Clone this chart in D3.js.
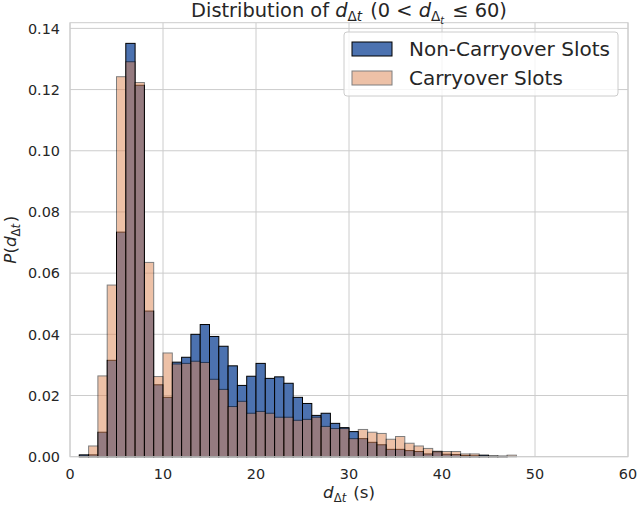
<!DOCTYPE html>
<html lang="en">
<head>
<meta charset="UTF-8">
<title>Distribution of d</title>
<style>
    body { margin: 0; padding: 0; background: #fff; }
    svg { display: block; font-family: "DejaVu Sans", sans-serif; }
</style>
<script src="https://d3js.org/d3.v7.min.js"></script>
</head>
<body>
<svg id="chart" width="639" height="508"></svg>
<script>
    // bin i covers [binStart[i], binStart[i] + 1)
    const binStart = d3.range(1, 48);
    const nonCarryover = [
        0.0006, 0.0006, 0.0080, 0.0315, 0.0734, 0.1351, 0.1214, 0.0476, 0.0235, 0.0194,
        0.0309, 0.0325, 0.0400, 0.0432, 0.0393, 0.0361, 0.0297, 0.0233, 0.0263, 0.0305,
        0.0256, 0.0261, 0.0240, 0.0194, 0.0174, 0.0135, 0.0142, 0.0109, 0.0095, 0.0082,
        0.0059, 0.0047, 0.0039, 0.0024, 0.0024, 0.0020, 0.0017, 0.0009, 0.0016, 0.0008,
        0.0007, 0.0004, 0.0003, 0.0005, 0.0002, 0.0001, 0.0000
    ];
    const carryover = [
        0.0003, 0.0035, 0.0264, 0.0561, 0.1242, 0.1291, 0.1223, 0.0635, 0.0262, 0.0339,
        0.0303, 0.0305, 0.0312, 0.0308, 0.0253, 0.0220, 0.0164, 0.0181, 0.0142, 0.0148,
        0.0142, 0.0129, 0.0129, 0.0119, 0.0122, 0.0129, 0.0099, 0.0092, 0.0092, 0.0059,
        0.0089, 0.0080, 0.0076, 0.0057, 0.0066, 0.0044, 0.0035, 0.0027, 0.0018, 0.0017,
        0.0017, 0.0009, 0.0009, 0.0002, 0.0002, 0.0002, 0.0005
    ];
    const xTicks = [0, 10, 20, 30, 40, 50, 60];
    const yTicks = [0, 0.02, 0.04, 0.06, 0.08, 0.10, 0.12, 0.14];
    const seriesNames = ['Non-Carryover Slots', 'Carryover Slots'];

    const svg = d3.select('#chart');
    const margin = { left: 70, right: 11, top: 22.7, bottom: 51.3 };
    const W = 639, H = 508;
    const textColor = '#262626';
    const gridColor = '#cccccc';
    const tickSize = 14.4, labelSize = 16.7, titleSize = 19.4, legendSize = 20;

    const yMax = d3.max(nonCarryover.concat(carryover)) * 1.05;
    const x = d3.scaleLinear().domain([0, 60]).range([margin.left, W - margin.right]);
    const y = d3.scaleLinear().domain([0, yMax]).range([H - margin.bottom, margin.top]);

    // grid
    const grid = svg.append('g');
    grid.selectAll('line.gx').data(xTicks).enter().append('line')
        .attr('x1', d => x(d)).attr('x2', d => x(d))
        .attr('y1', y.range()[0]).attr('y2', y.range()[1])
        .attr('stroke', gridColor).attr('stroke-width', 1);
    grid.selectAll('line.gy').data(yTicks).enter().append('line')
        .attr('x1', x.range()[0]).attr('x2', x.range()[1])
        .attr('y1', d => y(d)).attr('y2', d => y(d))
        .attr('stroke', gridColor).attr('stroke-width', 1);

    // bars
    function drawBars(values, fill, opacity) {
        svg.append('g').selectAll('rect')
            .data(binStart.map((b, i) => ({ b: b, v: values[i] })).filter(d => d.v > 0))
            .enter().append('rect')
            .attr('x', d => x(d.b))
            .attr('width', d => x(d.b + 1) - x(d.b))
            .attr('y', d => y(d.v))
            .attr('height', d => y(0) - y(d.v))
            .attr('fill', fill)
            .attr('stroke', '#000')
            .attr('stroke-width', 1)
            .attr('opacity', opacity);
    }
    drawBars(nonCarryover, '#4c72b0', 1);
    drawBars(carryover, '#dd8452', 0.5);

    // frame
    svg.append('rect')
        .attr('x', x.range()[0]).attr('y', y.range()[1])
        .attr('width', x.range()[1] - x.range()[0])
        .attr('height', y.range()[0] - y.range()[1])
        .attr('fill', 'none').attr('stroke', gridColor).attr('stroke-width', 1);

    // tick labels
    svg.append('g').selectAll('text').data(xTicks).enter().append('text')
        .attr('x', d => x(d)).attr('y', 479)
        .attr('text-anchor', 'middle')
        .attr('font-size', tickSize).attr('fill', textColor)
        .text(d => d);
    svg.append('g').selectAll('text').data(yTicks).enter().append('text')
        .attr('x', 60).attr('y', d => y(d)).attr('dy', '0.36em')
        .attr('text-anchor', 'end')
        .attr('font-size', tickSize).attr('fill', textColor)
        .text(d => d3.format('.2f')(d));

    // mathtext helper: list of parts
    function mathText(sel, parts, size) {
        parts.forEach(p => {
            const t = sel.append('tspan').text(p.t);
            if (p.it) t.attr('font-style', 'italic');
            if (p.sub) t.attr('font-size', size * p.sub.scale).attr('dy', p.sub.dy);
        });
    }
    function dSub(size, nested) {
        // d_{Δt}, or d_{Δ_t} when nested
        const parts = [
            { t: 'd', it: true },
            { t: 'Δ', sub: { scale: 0.7, dy: size * 0.22 } }
        ];
        if (nested) {
            parts.push({ t: 't', it: true, sub: { scale: 0.5, dy: size * 0.12 } });
            parts.push({ t: '\u200a', sub: { scale: 1, dy: -size * 0.34 } });
        } else {
            parts.push({ t: 't', it: true, sub: { scale: 0.7, dy: 0 } });
            parts.push({ t: '\u200a', sub: { scale: 1, dy: -size * 0.22 } });
        }
        return parts;
    }

    // title
    const title = svg.append('text')
        .attr('x', (x.range()[0] + x.range()[1]) / 2).attr('y', 17)
        .attr('text-anchor', 'middle').attr('font-size', titleSize).attr('fill', textColor);
    mathText(title, [{ t: 'Distribution of ' }].concat(dSub(titleSize, false))
        .concat([{ t: ' (0 < ' }]).concat(dSub(titleSize, true)).concat([{ t: ' ≤ 60)' }]), titleSize);

    // x label
    const xl = svg.append('text')
        .attr('x', (x.range()[0] + x.range()[1]) / 2).attr('y', 498)
        .attr('text-anchor', 'middle').attr('font-size', labelSize).attr('fill', textColor);
    mathText(xl, dSub(labelSize, false).concat([{ t: ' (s)' }]), labelSize);

    // y label
    const yl = svg.append('text')
        .attr('transform', `translate(16,${(y.range()[0] + y.range()[1]) / 2}) rotate(-90)`)
        .attr('text-anchor', 'middle').attr('font-size', labelSize).attr('fill', textColor);
    mathText(yl, [{ t: 'P', it: true }, { t: '(' }].concat(dSub(labelSize, false)).concat([{ t: ')' }]), labelSize);

    // legend
    const leg = svg.append('g');
    leg.append('rect')
        .attr('x', 344).attr('y', 32).attr('width', 274).attr('height', 64)
        .attr('rx', 3).attr('fill', '#fff').attr('fill-opacity', 0.8)
        .attr('stroke', gridColor).attr('stroke-width', 1);
    const legColors = [['#4c72b0', 1], ['#dd8452', 0.5]];
    seriesNames.forEach((name, i) => {
        const yy = 42 + i * 29;
        leg.append('rect')
            .attr('x', 352).attr('y', yy).attr('width', 40).attr('height', 14)
            .attr('fill', legColors[i][0]).attr('stroke', '#000').attr('stroke-width', 1)
            .attr('opacity', legColors[i][1]);
        leg.append('text')
            .attr('x', 409).attr('y', yy + 14)
            .attr('font-size', legendSize).attr('fill', textColor)
            .text(name);
    });
</script>
</body>
</html>
